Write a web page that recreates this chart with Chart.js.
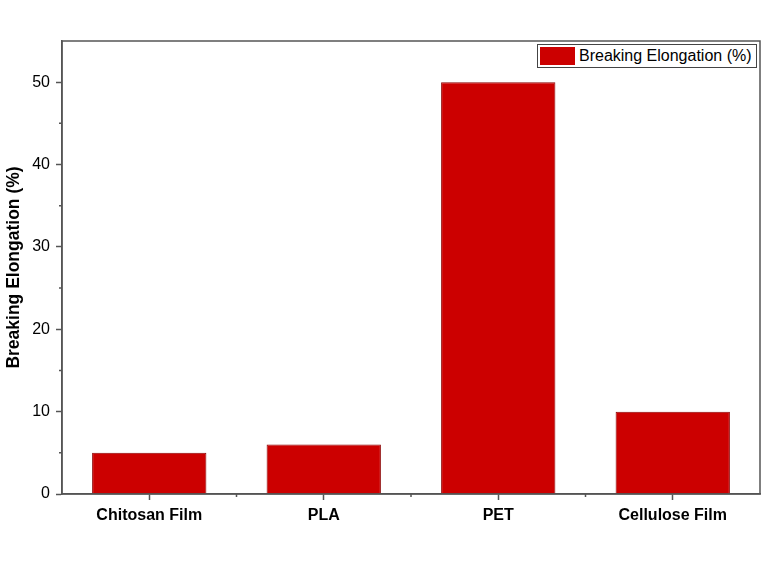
<!DOCTYPE html>
<html>
<head>
<meta charset="utf-8">
<script src="https://cdn.jsdelivr.net/npm/chart.js@4"></script>
<style>
  html, body { margin: 0; padding: 0; background: #fff; }
  #wrap { position: relative; width: 768px; height: 569px; }
  #legend {
    position: absolute; left: 537px; top: 44px; width: 216px; height: 22px;
    border: 1px solid #444; background: #fff;
    display: flex; align-items: center; padding: 0 0 0 2px; box-sizing: content-box;
    font: 16px "Liberation Sans", Arial, sans-serif; color: #000; white-space: nowrap;
  }
  #legend span.sw { flex: none; width: 35px; height: 18px; background: #cc0000; margin-right: 4px; }
</style>
</head>
<body>
<div id="wrap">
  <canvas id="chart" width="768" height="569"></canvas>
  <div id="legend"><span class="sw"></span>Breaking Elongation (%)</div>
</div>
<script>
const categories = ["Chitosan Film", "PLA", "PET", "Cellulose Film"];
const elongation = [5, 6, 50, 10];
const yMajorTicks = [0, 10, 20, 30, 40, 50];
const yMinorTicks = [5, 15, 25, 35, 45];

const axisColor = "#555";

// frame + minor ticks, drawn from the chart's own scales
const framePlugin = {
  id: "frame",
  afterDraw(chart) {
    const { ctx, chartArea: a, scales } = chart;
    ctx.save();
    ctx.strokeStyle = axisColor;
    ctx.lineWidth = 1.5;
    ctx.strokeRect(a.left, a.top, a.right - a.left, a.bottom - a.top);
    ctx.beginPath();
    yMinorTicks.forEach((v) => {
      const y = scales.y.getPixelForValue(v);
      ctx.moveTo(a.left - 3, y);
      ctx.lineTo(a.left, y);
    });
    const half = (scales.x.getPixelForValue(1) - scales.x.getPixelForValue(0)) / 2;
    for (let i = 0; i < categories.length - 1; i++) {
      const x = scales.x.getPixelForValue(i) + half;
      ctx.moveTo(x, a.bottom);
      ctx.lineTo(x, a.bottom + 3);
    }
    ctx.stroke();
    ctx.restore();
  }
};

new Chart(document.getElementById("chart"), {
  type: "bar",
  data: {
    labels: categories,
    datasets: [{
      label: "Breaking Elongation (%)",
      data: elongation,
      backgroundColor: "#cc0000",
      borderColor: "#8b0000",
      borderWidth: 1,
      barPercentage: 0.655,
      categoryPercentage: 1
    }]
  },
  options: {
    responsive: false,
    animation: false,
    layout: { padding: { left: 0, top: 41, right: 8, bottom: 0 } },
    plugins: { legend: { display: false }, tooltip: { enabled: false } },
    scales: {
      x: {
        offset: true,
        afterFit: (s) => { s.height = 75; },
        grid: { drawOnChartArea: false, offset: false, tickLength: 6, tickColor: axisColor, tickWidth: 1.5 },
        border: { color: axisColor, width: 1.5 },
        ticks: { color: "#000", padding: 6, font: { family: "Liberation Sans", size: 16, weight: "bold" } }
      },
      y: {
        min: 0,
        max: 55,
        afterFit: (s) => { s.width = 62; },
        afterBuildTicks: (s) => { s.ticks = yMajorTicks.map((v) => ({ value: v })); },
        grid: { drawOnChartArea: false, tickLength: 6, tickColor: axisColor, tickWidth: 1.5 },
        border: { color: axisColor, width: 1.5 },
        ticks: { color: "#000", padding: 6, font: { family: "Liberation Sans", size: 16 } },
        title: {
          display: true,
          text: "Breaking Elongation (%)",
          color: "#000",
          padding: { top: 4, bottom: 0 },
          font: { family: "Liberation Sans", size: 17.5, weight: "bold" }
        }
      }
    }
  },
  plugins: [framePlugin]
});
</script>
</body>
</html>
